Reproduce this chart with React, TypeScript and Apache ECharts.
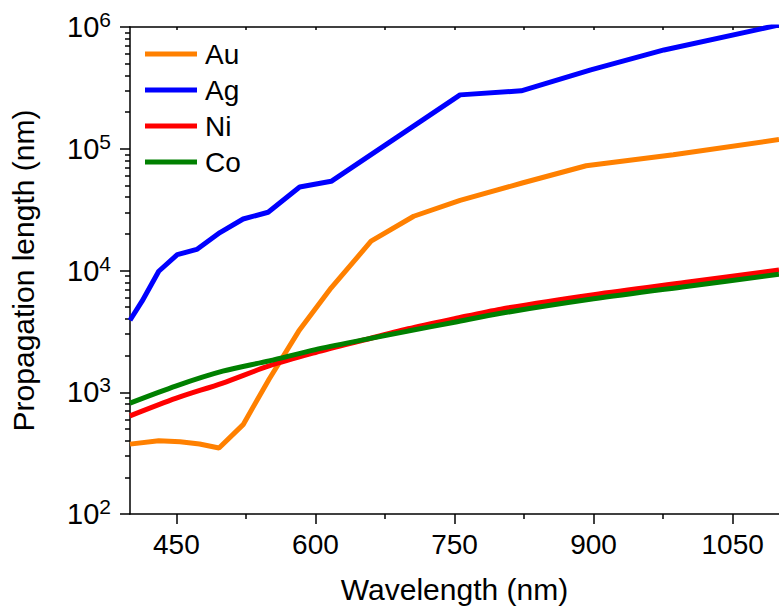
import React, { useEffect, useRef } from "react";
import * as echarts from "echarts";

const FONT = '"Liberation Sans", Arial, Helvetica, sans-serif';

const auX = [400, 431, 454, 475, 496, 522, 550, 582, 617, 660, 706, 756, 823, 892, 986, 1100];
const auY = [375, 399, 392, 376, 348, 542, 1280, 3180, 7200, 17400, 27900, 37700, 52300, 72500, 89300, 119000];

const agX = [400, 413, 431, 451, 472, 497, 522, 549, 583, 617, 756, 822, 897, 976, 1100];
const agY = [3900, 5600, 9860, 13500, 14900, 20500, 26500, 30100, 48500, 54000, 277000, 299000, 444000, 648000, 1040000];

const niCoX = [400, 450, 500, 550, 600, 650, 700, 750, 800, 900, 1000, 1100];
const niY = [640, 895, 1190, 1645, 2120, 2660, 3320, 4020, 4820, 6330, 8000, 10100];
const coY = [815, 1130, 1490, 1810, 2240, 2680, 3180, 3760, 4450, 5850, 7400, 9300];

const xMajorTicks = [450, 600, 750, 900, 1050];
const xMinorTicks = [525, 675, 825, 975];
const xTopTicks = [450, 525, 600, 675, 750, 825, 900, 975, 1050];
const yMajorTicks = [100, 1000, 10000, 100000, 1000000];
const yMinorTicks = [
  200, 300, 400, 500, 600, 700, 800, 900,
  2000, 3000, 4000, 5000, 6000, 7000, 8000, 9000,
  20000, 30000, 40000, 50000, 60000, 70000, 80000, 90000,
  200000, 300000, 400000, 500000, 600000, 700000, 800000, 900000,
];

const seriesNames = ["Au", "Ag", "Ni", "Co"];
const seriesColors = ["#FF8000", "#0000FF", "#FF0000", "#008000"];

const pairs = (xs: number[], ys: number[]) => xs.map((x, i) => [x, ys[i]]);

export default function App() {
  const ref = useRef<HTMLDivElement>(null);
  useEffect(() => {
    if (!ref.current) return;
    const chart = echarts.init(ref.current, undefined, { renderer: "svg" });
    const axisLineStyle = { color: "#000", width: 1.5 };
    const baseX = { type: "value", min: 400, max: 1100, gridIndex: 0 } as any;
    const baseY = { type: "log", logBase: 10, min: 100, max: 1000000 } as any;
    const datas = [pairs(auX, auY), pairs(agX, agY), pairs(niCoX, niY), pairs(niCoX, coY)];
    chart.setOption({
      animation: false,
      backgroundColor: "#fff",
      textStyle: { fontFamily: FONT, color: "#000" },
      grid: { left: 129, right: -8, top: 27, bottom: 94, containLabel: false },
      legend: {
        orient: "vertical",
        left: 145,
        top: 40,
        padding: 0,
        itemGap: 8,
        itemWidth: 52,
        itemHeight: 5,
        icon: "rect",
        data: seriesNames,
        textStyle: { fontFamily: FONT, fontSize: 28, color: "#000", lineHeight: 28, padding: [0, 0, 0, 3] },
      },
      xAxis: [
        {
          ...baseX,
          position: "bottom",
          name: "Wavelength (nm)",
          nameLocation: "middle",
          nameGap: 60,
          nameTextStyle: { fontFamily: FONT, fontSize: 30, color: "#000" },
          axisLine: { show: true, onZero: false, lineStyle: axisLineStyle },
          axisTick: { show: true, inside: false, length: 10, customValues: xMajorTicks, lineStyle: axisLineStyle },
          axisLabel: {
            show: true,
            margin: 16,
            customValues: xMajorTicks,
            formatter: (v: number) => String(v),
            fontFamily: FONT,
            fontSize: 28,
            color: "#000",
          },
          splitLine: { show: false },
        },
        {
          ...baseX,
          position: "bottom",
          axisLine: { show: false, onZero: false },
          axisTick: { show: true, inside: false, length: 5, customValues: xMinorTicks, lineStyle: axisLineStyle },
          axisLabel: { show: false },
          splitLine: { show: false },
        },
        {
          ...baseX,
          position: "top",
          axisLine: { show: true, onZero: false, lineStyle: axisLineStyle },
          axisTick: { show: true, inside: true, length: 3, customValues: xTopTicks, lineStyle: axisLineStyle },
          axisLabel: { show: false },
          splitLine: { show: false },
        },
      ],
      yAxis: [
        {
          ...baseY,
          position: "left",
          name: "Propagation length (nm)",
          nameLocation: "middle",
          nameGap: 92,
          nameTextStyle: { fontFamily: FONT, fontSize: 30, color: "#000" },
          axisLine: { show: true, onZero: false, lineStyle: axisLineStyle },
          axisTick: { show: true, inside: false, length: 10, customValues: yMajorTicks, lineStyle: axisLineStyle },
          axisLabel: {
            show: true,
            margin: 19,
            customValues: yMajorTicks,
            formatter: (v: number) => `{b|10}{s|${Math.round(Math.log10(v))}}`,
            rich: {
              b: { fontFamily: FONT, fontSize: 29, color: "#000", lineHeight: 36 },
              s: { fontFamily: FONT, fontSize: 21, color: "#000", verticalAlign: "top", lineHeight: 21 },
            },
          },
          splitLine: { show: false },
        },
        {
          ...baseY,
          position: "left",
          axisLine: { show: false, onZero: false },
          axisTick: { show: true, inside: false, length: 5, customValues: yMinorTicks, lineStyle: axisLineStyle },
          axisLabel: { show: false },
          splitLine: { show: false },
        },
      ],
      series: seriesNames.map((name, i) => ({
        name,
        type: "line",
        xAxisIndex: 0,
        yAxisIndex: 0,
        data: datas[i],
        showSymbol: false,
        symbol: "none",
        smooth: name === "Ni" || name === "Co" ? 0.3 : false,
        clip: true,
        lineStyle: { color: seriesColors[i], width: 5 },
        itemStyle: { color: seriesColors[i] },
        z: 2 + i,
      })),
    });
    return () => chart.dispose();
  }, []);
  return (
    <div
      ref={ref}
      style={{ position: "fixed", left: 0, top: 0, width: 779, height: 609, background: "#fff" }}
    />
  );
}
